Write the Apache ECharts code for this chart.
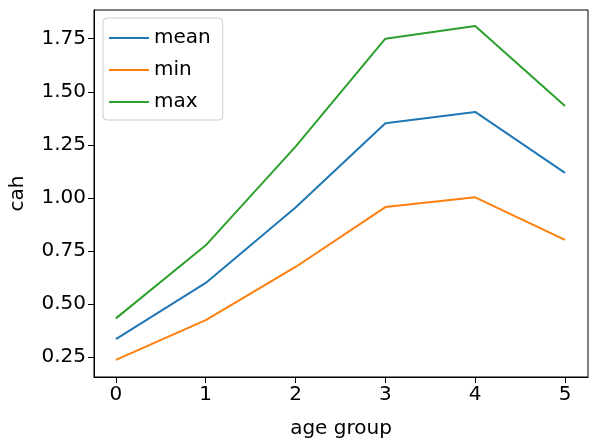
<!DOCTYPE html>
<html>
<head>
<meta charset="utf-8">
<script src="https://cdn.jsdelivr.net/npm/echarts@6/dist/echarts.min.js"></script>
<style>html,body{margin:0;padding:0;background:#fff}#main{width:597px;height:444px}</style>
</head>
<body>
<div id="main"></div>
<script>
// age group -> cah stats
var ageGroups = [0, 1, 2, 3, 4, 5];
var meanVals = [0.335, 0.600, 0.955, 1.352, 1.405, 1.118];
var minVals = [0.238, 0.425, 0.675, 0.957, 1.003, 0.803];
var maxVals = [0.433, 0.777, 1.242, 1.750, 1.810, 1.433];
var yTicks = [0.25, 0.5, 0.75, 1.0, 1.25, 1.5, 1.75];

function pairs(vals) {
    return ageGroups.map(function (x, i) { return [x, vals[i]]; });
}

var myChart = echarts.init(document.getElementById('main'));
var font = 'DejaVu Sans';
var option = {
    animation: false,
    textStyle: {fontFamily: font},
    grid: {left: 93, right: 9, top: 10, bottom: 64, show: true, borderColor: '#000', borderWidth: 1},
    legend: {
        orient: 'vertical', left: 103, top: 18,
        itemWidth: 40, itemHeight: 2, itemGap: 12,
        padding: [10, 12, 8, 6],
        borderColor: '#ccc', borderWidth: 1, borderRadius: 4,
        textStyle: {fontSize: 20, color: '#000', fontFamily: font},
        data: [{name: 'mean', icon: 'rect'}, {name: 'min', icon: 'rect'}, {name: 'max', icon: 'rect'}]
    },
    xAxis: {
        type: 'value', min: -0.244, max: 5.256,
        name: 'age group', nameLocation: 'middle', nameGap: 42,
        nameTextStyle: {fontSize: 20, color: '#000'},
        axisLine: {onZero: false, lineStyle: {color: '#000'}},
        axisTick: {customValues: ageGroups, length: 6, lineStyle: {color: '#000'}},
        axisLabel: {customValues: ageGroups, fontSize: 20, color: '#000', margin: 8},
        splitLine: {show: false}
    },
    yAxis: {
        type: 'value', min: 0.157, max: 1.885,
        name: 'cah', nameLocation: 'middle', nameGap: 66,
        nameTextStyle: {fontSize: 20, color: '#000'},
        axisLine: {show: true, onZero: false, lineStyle: {color: '#000'}},
        axisTick: {show: true, customValues: yTicks, length: 6, lineStyle: {color: '#000'}},
        axisLabel: {customValues: yTicks, fontSize: 20, color: '#000', margin: 8,
            formatter: function (v) { return v.toFixed(2); }},
        splitLine: {show: false}
    },
    series: [
        {name: 'mean', type: 'line', data: pairs(meanVals), showSymbol: false, color: '#1f77b4', lineStyle: {width: 2}},
        {name: 'min', type: 'line', data: pairs(minVals), showSymbol: false, color: '#ff7f0e', lineStyle: {width: 2}},
        {name: 'max', type: 'line', data: pairs(maxVals), showSymbol: false, color: '#2ca02c', lineStyle: {width: 2}}
    ]
};
myChart.setOption(option);
</script>
</body>
</html>
